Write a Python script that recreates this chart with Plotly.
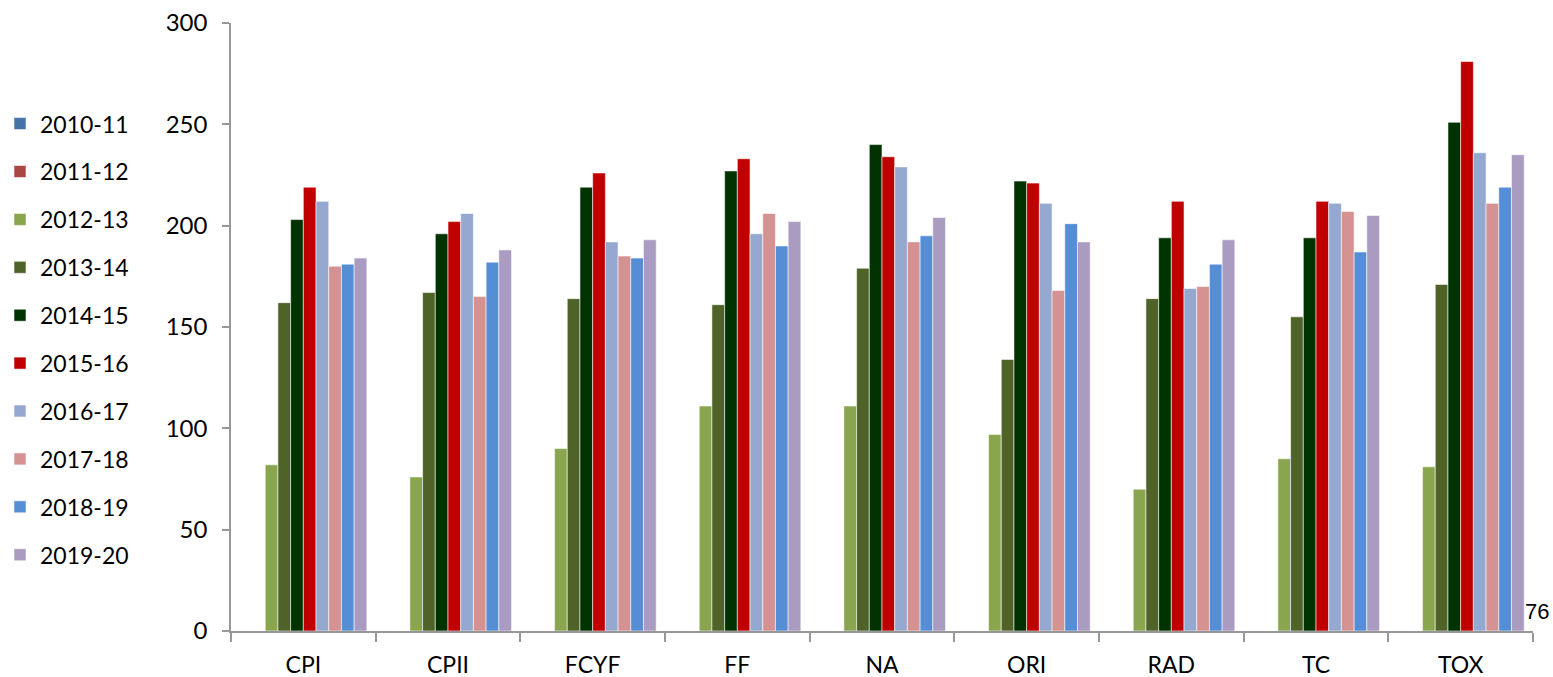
import plotly.graph_objects as go

categories = ["CPI", "CPII", "FCYF", "FF", "NA", "ORI", "RAD", "TC", "TOX"]
series_names = ["2010-11", "2011-12", "2012-13", "2013-14", "2014-15",
                "2015-16", "2016-17", "2017-18", "2018-19", "2019-20"]

v2010_11 = [None] * 9
v2011_12 = [None] * 9
v2012_13 = [82, 76, 90, 111, 111, 97, 70, 85, 81]
v2013_14 = [162, 167, 164, 161, 179, 134, 164, 155, 171]
v2014_15 = [203, 196, 219, 227, 240, 222, 194, 194, 251]
v2015_16 = [219, 202, 226, 233, 234, 221, 212, 212, 281]
v2016_17 = [212, 206, 192, 196, 229, 211, 169, 211, 236]
v2017_18 = [180, 165, 185, 206, 192, 168, 170, 207, 211]
v2018_19 = [181, 182, 184, 190, 195, 201, 181, 187, 219]
v2019_20 = [184, 188, 193, 202, 204, 192, 193, 205, 235]

series_values = [v2010_11, v2011_12, v2012_13, v2013_14, v2014_15,
                 v2015_16, v2016_17, v2017_18, v2018_19, v2019_20]
colors = ["#4572A7", "#AA4643", "#89A54E", "#4F6228", "#003300",
          "#C00000", "#95A9D0", "#D49392", "#558ED5", "#AA9BC0"]

y_ticks = [0, 50, 100, 150, 200, 250, 300]

fig = go.Figure()
for name, vals, col in zip(series_names, series_values, colors):
    fig.add_trace(go.Bar(
        x=categories, y=vals, name=name, legendgroup=name,
        marker=dict(color=col, line=dict(color="rgba(255,255,255,0.55)", width=1)),
    ))

font_main = "Lato, 'Open Sans', sans-serif"
axis_col = "#979797"

W, H = 1553, 677
L, R, T, B = 231, 20, 23, 46
plot_w = W - L - R
plot_h = H - T - B

fig.update_layout(
    barmode="group",
    bargap=0.122,
    bargroupgap=0,
    width=W, height=H,
    margin=dict(l=L, r=R, t=T, b=B, autoexpand=False),
    plot_bgcolor="white", paper_bgcolor="white",
    font=dict(family=font_main, size=23, color="#000000"),
    showlegend=True,
    legend=dict(
        x=-L / plot_w, xanchor="left", y=0.48, yanchor="middle",
        font=dict(family=font_main, size=23, color="#000000"),
        tracegroupgap=15, itemwidth=30,
        bgcolor="rgba(0,0,0,0)",
    ),
    xaxis=dict(
        type="category", tickson="boundaries",
        showline=True, linecolor=axis_col, linewidth=1.5,
        ticks="outside", ticklen=9, tickcolor=axis_col, tickwidth=1.5,
        showgrid=False, tickfont=dict(size=23), ticklabelstandoff=13,
        ticklabeloverflow="allow",
    ),
    yaxis=dict(
        range=[0, 300], tickvals=y_ticks,
        showline=True, linecolor=axis_col, linewidth=1.5,
        ticks="outside", ticklen=7, tickcolor=axis_col, tickwidth=1.5,
        showgrid=False, zeroline=False, tickfont=dict(size=24),
        ticklabelstandoff=10, ticklabeloverflow="allow",
    ),
    annotations=[dict(
        text="76", x=(1523 - L) / plot_w, y=(631 - 611) / plot_h,
        xref="paper", yref="paper", xanchor="left", yanchor="middle",
        showarrow=False,
        font=dict(family="Liberation Sans, Arial, sans-serif", size=22, color="#000000"),
    )],
)

fig.write_html(
    "out.html",
    config={"displayModeBar": False},
    post_script="document.body.style.margin='0';document.body.style.overflow='hidden';",
)
